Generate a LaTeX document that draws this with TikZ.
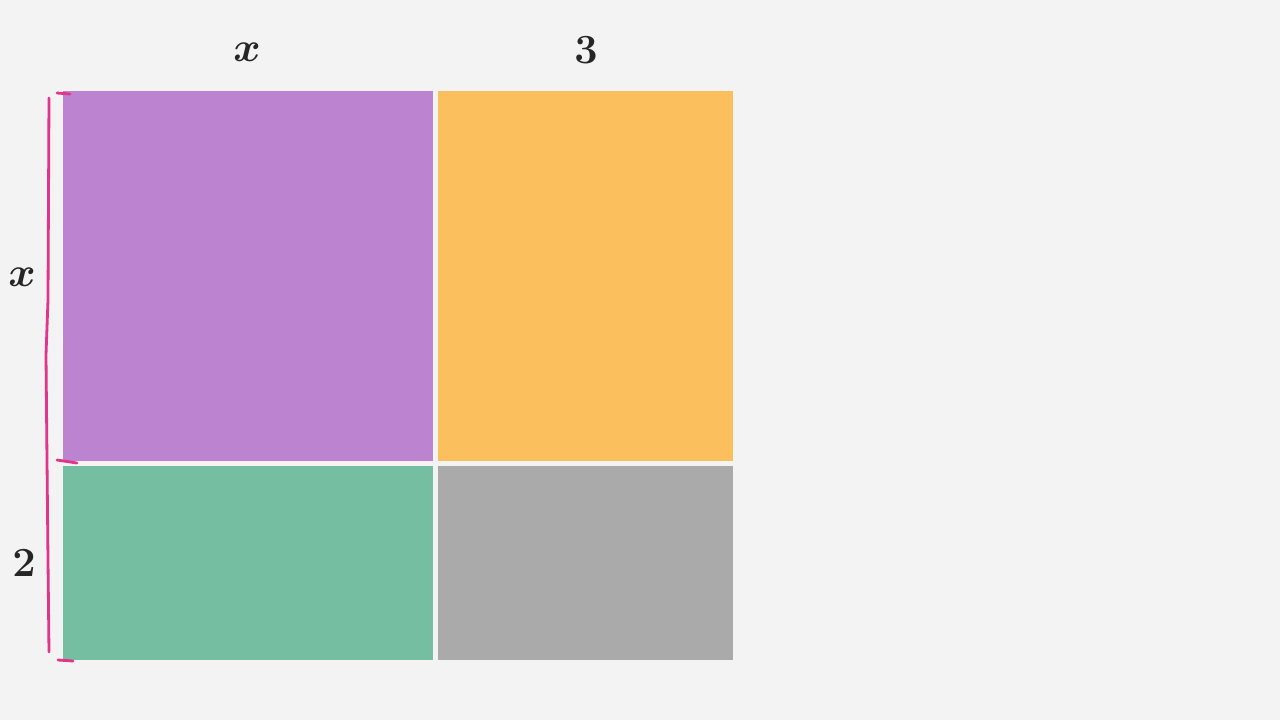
\documentclass[tikz,border=0pt]{standalone}
\usepackage{xcolor}
\definecolor{bgc}{HTML}{F3F3F3}
\definecolor{purp}{HTML}{BC84D0}
\definecolor{oran}{HTML}{FBBF5E}
\definecolor{gree}{HTML}{75BEA2}
\definecolor{gray1}{HTML}{AAAAAA}
\definecolor{pinkc}{HTML}{E0358A}
\begin{document}
\begin{tikzpicture}[x=0.5pt,y=-0.5pt,
  cell/.style={draw=none,anchor=north west,inner sep=0pt,outer sep=0pt},
  lab/.style={font=\fontsize{21}{26}\selectfont\boldmath,text=black!85,inner sep=0pt},
  brace/.style={draw=pinkc,line width=1.4pt,line cap=round,line join=round}]
\fill[bgc] (0,0) rectangle (1280,720);
\useasboundingbox (0,0) rectangle (1280,720);
\node[cell,fill=purp,minimum width=185pt,minimum height=185pt] (p) at (63,91) {};
\node[cell,fill=oran,minimum width=147.5pt,minimum height=185pt] (o) at (438,91) {};
\node[cell,fill=gree,minimum width=185pt,minimum height=97pt] (g) at (63,466) {};
\node[cell,fill=gray1,minimum width=147.5pt,minimum height=97pt] (k) at (438,466) {};
\node[lab] (lx) at (247,52) {$x$};
\node[lab] (l3) at (586,50) {$3$};
\node[lab] (ly) at (22,277) {$x$};
\node[lab] (l2) at (24,563) {$2$};
\draw[brace] (49,98) -- (48,300) -- (46,355) -- (47,460) -- (48,560) -- (49,652);
\draw[brace] (57,93) -- (70,94);
\draw[brace] (57,460) -- (77,463);
\draw[brace] (58,660) -- (73,661);
\end{tikzpicture}
\end{document}
